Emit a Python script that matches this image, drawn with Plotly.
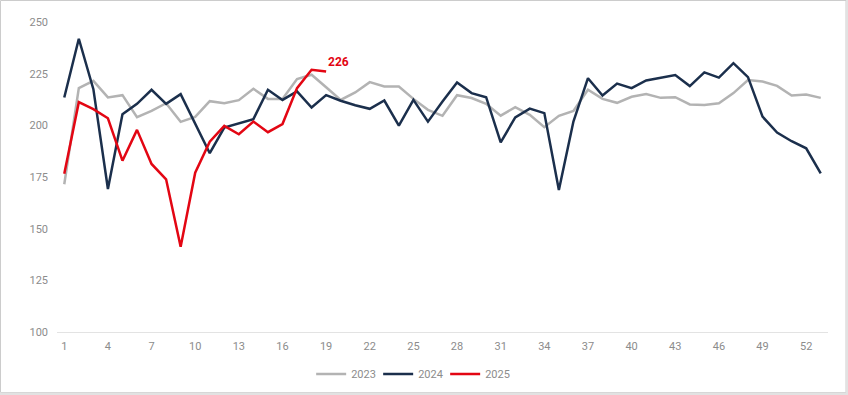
import plotly.graph_objects as go

weeks = list(range(1, 54))

y2023 = [171.5, 218.0, 221.5, 213.5, 214.6, 204.0, 207.0, 210.7, 201.7, 204.1,
         211.7, 210.7, 212.2, 217.7, 212.8, 212.8, 222.4, 224.5, 218.4, 212.3,
         215.9, 220.9, 218.8, 218.8, 212.8, 207.5, 204.6, 214.6, 213.2, 210.4,
         204.7, 208.8, 205.1, 199.1, 204.6, 207.0, 217.2, 212.8, 210.9, 213.8,
         215.1, 213.3, 213.6, 210.1, 209.8, 210.7, 215.6, 221.9, 221.2, 219.1,
         214.4, 214.9, 213.3]

y2024 = [213.5, 241.9, 217.5, 169.2, 205.4, 210.4, 217.2, 210.4, 215.1, 201.0,
         186.5, 198.9, 201.0, 203.0, 217.2, 212.3, 216.4, 208.6, 214.6, 211.9,
         209.7, 208.0, 212.0, 199.9, 212.3, 201.8, 211.5, 220.7, 215.6, 213.6,
         191.8, 203.8, 208.1, 205.9, 168.7, 201.8, 222.8, 214.4, 220.2, 218.0,
         221.7, 223.1, 224.3, 219.0, 225.6, 223.1, 230.1, 223.3, 204.2, 196.5,
         192.3, 188.9, 176.8]

y2025 = [176.6, 211.2, 207.8, 203.4, 182.9, 197.8, 181.3, 173.9, 141.2, 177.1,
         192.1, 199.7, 195.7, 201.8, 196.7, 200.6, 218.0, 226.9, 226.0]

series = [("2023", y2023, "#b3b3b3"), ("2024", y2024, "#1b2f4c"), ("2025", y2025, "#e30613")]

x_ticks = list(range(1, 54, 3))
y_ticks = [100, 125, 150, 175, 200, 225, 250]

fig = go.Figure()
for name, ys, color in series:
    fig.add_trace(go.Scatter(x=weeks[:len(ys)], y=ys, mode="lines", name=name,
                             line=dict(color=color, width=2.5), hoverinfo="skip"))

last_w = len(y2025)
fig.add_annotation(x=last_w, y=y2025[-1], text="<b>%d</b>" % round(y2025[-1]),
                   showarrow=False, xanchor="left", yanchor="bottom",
                   xshift=0, yshift=1,
                   font=dict(family="Roboto, Arial", size=12, color="#e30613"))

L, R, T, B = 57, 20, 22, 63
W, H = 848, 395
pw, ph = W - L - R, H - T - B


def px_x(p):
    return (p - L) / pw


def px_y(p):
    return (H - B - p) / ph


# outer frame
fig.add_shape(type="rect", xref="paper", yref="paper",
              x0=px_x(0.5), x1=px_x(846), y0=px_y(392.5), y1=px_y(0.5),
              line=dict(color="#cccccc", width=1), layer="below")
fig.add_shape(type="rect", xref="paper", yref="paper",
              x0=px_x(846), x1=px_x(848), y0=px_y(395), y1=px_y(0),
              line=dict(width=0), fillcolor="#e2e2e2", layer="below")
fig.add_shape(type="rect", xref="paper", yref="paper",
              x0=px_x(0), x1=px_x(848), y0=px_y(395), y1=px_y(392.5),
              line=dict(width=0), fillcolor="#e2e2e2", layer="below")

fig.update_layout(
    width=W, height=H,
    margin=dict(l=L, r=R, t=T, b=B, autoexpand=False),
    paper_bgcolor="white", plot_bgcolor="white",
    font=dict(family="Roboto, Arial", size=11, color="#8c8c8c"),
    showlegend=True,
    legend=dict(orientation="h", x=0.46, xanchor="center",
                yref="container", y=(H - 374) / H, yanchor="middle",
                entrywidth=22, entrywidthmode="pixels",
                font=dict(size=11, color="#8c8c8c"), bgcolor="rgba(0,0,0,0)"),
    xaxis=dict(range=[0.5, 53.5], tickmode="array", tickvals=x_ticks,
               ticktext=[str(v) for v in x_ticks], showgrid=False, zeroline=False,
               showline=True, linecolor="#e3e3e3", linewidth=1, ticks="",
               automargin=False, ticklabelstandoff=4,
               tickfont=dict(size=11, color="#8c8c8c")),
    yaxis=dict(range=[100, 250], tickmode="array", tickvals=y_ticks,
               showgrid=False, zeroline=False, showline=False, ticks="",
               automargin=False, ticklabelstandoff=8,
               tickfont=dict(size=11, color="#8c8c8c")),
)

post = (
    "var h=document.documentElement,b=document.body;"
    "h.style.margin='0';h.style.padding='0';h.style.overflow='hidden';"
    "b.style.margin='0';b.style.padding='0';b.style.overflow='hidden';"
)

fig.write_html("out.html", config={"displayModeBar": False}, post_script=post)
